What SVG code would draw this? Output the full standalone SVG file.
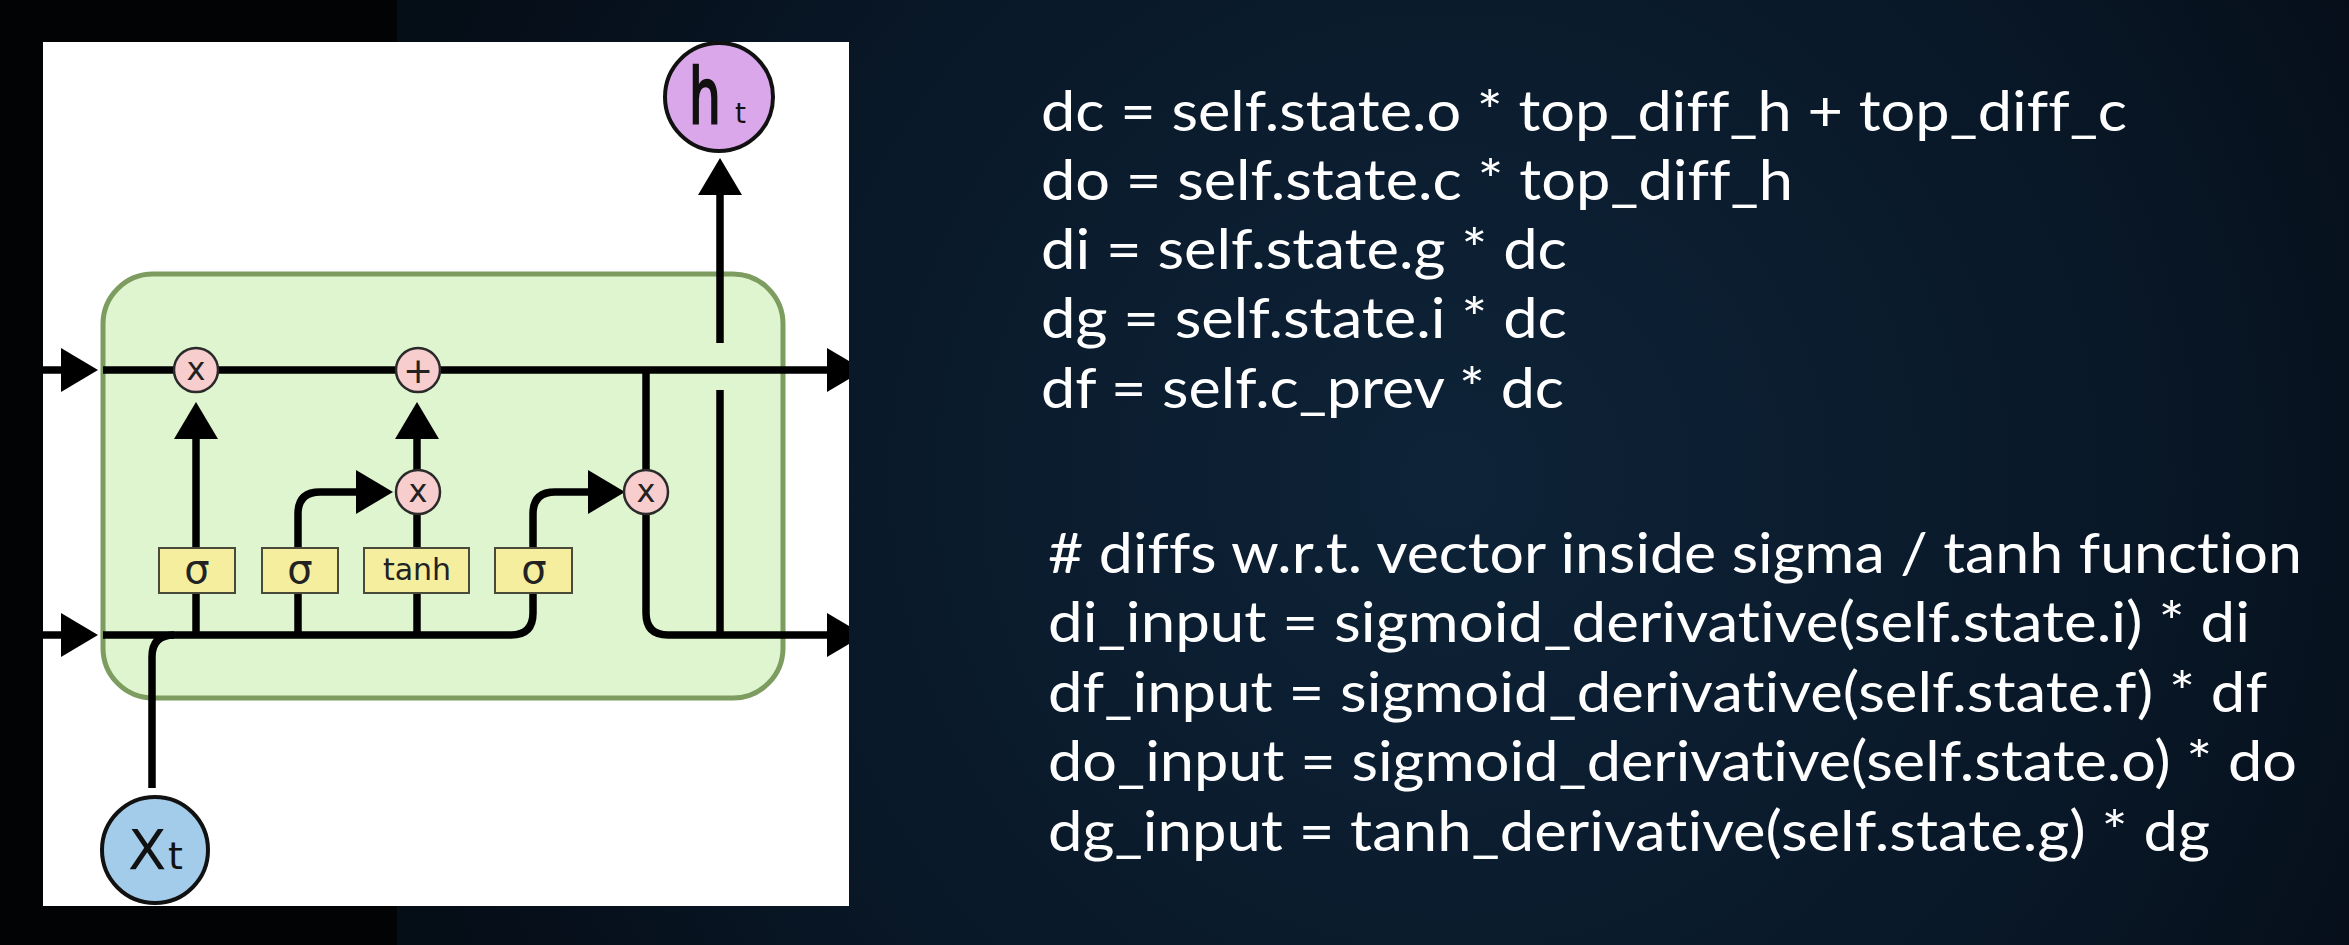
<svg xmlns="http://www.w3.org/2000/svg" width="2349" height="945" viewBox="0 0 2349 945">
  <defs>
    <radialGradient id="bg" cx="1450" cy="480" r="1100" gradientUnits="userSpaceOnUse">
      <stop offset="0" stop-color="#0e2338"/>
      <stop offset="0.6" stop-color="#091828"/>
      <stop offset="1" stop-color="#050d17"/>
    </radialGradient>
    <marker id="ah" markerUnits="userSpaceOnUse" markerWidth="38" markerHeight="44" refX="0" refY="22" orient="auto" overflow="visible">
      <path d="M0,0 L37,22 L0,44 z" fill="#000"/>
    </marker>
    <clipPath id="panel">
      <rect x="43" y="42" width="806" height="864"/>
    </clipPath>
    <style>
      .ln { fill: none; stroke: #000; stroke-width: 7.5; }
      .arr { marker-end: url(#ah); }
      .op { fill: #f7cdcd; stroke: #2a2a2a; stroke-width: 2.5; }
      .gate { fill: #f5ee9e; stroke: #4a4a3a; stroke-width: 2; }
      .sym { font-family: "DejaVu Sans", sans-serif; fill: #222; text-anchor: middle; }
      .io { font-family: "DejaVu Sans", sans-serif; fill: #111; }
      .code { font-family: Lato, "Open Sans", sans-serif; font-size: 57px; fill: #ffffff; font-variant-ligatures: none; font-feature-settings: "liga" 0, "clig" 0, "dlig" 0; }
    </style>
  </defs>

  <!-- background -->
  <rect x="0" y="0" width="2349" height="945" fill="url(#bg)"/>
  <rect x="0" y="0" width="397" height="945" fill="#010305"/>

  <!-- white panel -->
  <rect x="43" y="42" width="806" height="864" fill="#ffffff"/>

  <g id="cell">
    <rect x="103" y="274" width="680" height="424" rx="50" ry="50" fill="#dff5cf" stroke="#7d9c60" stroke-width="5"/>
  </g>

  <g id="connectors" clip-path="url(#panel)">
    <path class="ln arr" d="M43,370 H61"/>
    <path class="ln arr" d="M43,635 H61"/>
    <path class="ln arr" d="M103,370 H827"/>
    <path class="ln" d="M103,635 H511 Q533,635 533,613 V593"/>
    <path class="ln" d="M152,788 V657 Q152,635 174,635"/>
    <path class="ln" d="M196,635 V593"/>
    <path class="ln arr" d="M196,548 V439"/>
    <path class="ln" d="M298,635 V593"/>
    <path class="ln arr" d="M298,548 V514 Q298,492 320,492 H356"/>
    <path class="ln" d="M417,635 V593"/>
    <path class="ln" d="M417,548 V514"/>
    <path class="ln arr" d="M417,470 V439"/>
    <path class="ln arr" d="M533,548 V514 Q533,492 555,492 H588"/>
    <path class="ln arr" d="M646,370 V613 Q646,635 668,635 H827"/>
    <path class="ln" d="M720,635 V390"/>
    <path class="ln arr" d="M720,343 V195"/>
  </g>

  <g id="mul-forget">
    <circle class="op" cx="196" cy="370" r="22"/>
    <text class="sym" x="196" y="380" font-size="32">x</text>
  </g>
  <g id="add-cell">
    <circle class="op" cx="418" cy="370" r="22"/>
    <text class="sym" x="418" y="383" font-size="36">+</text>
  </g>
  <g id="mul-input">
    <circle class="op" cx="418" cy="492" r="22"/>
    <text class="sym" x="418" y="502" font-size="32">x</text>
  </g>
  <g id="mul-output">
    <circle class="op" cx="646" cy="492" r="22"/>
    <text class="sym" x="646" y="502" font-size="32">x</text>
  </g>

  <g id="gate-forget">
    <rect class="gate" x="159" y="548" width="76" height="45"/>
    <text class="sym" x="197" y="583" font-size="40">σ</text>
  </g>
  <g id="gate-input">
    <rect class="gate" x="262" y="548" width="76" height="45"/>
    <text class="sym" x="300" y="583" font-size="40">σ</text>
  </g>
  <g id="gate-tanh">
    <rect class="gate" x="364" y="548" width="105" height="45"/>
    <text class="sym" x="417" y="580" font-size="30">tanh</text>
  </g>
  <g id="gate-output">
    <rect class="gate" x="495" y="548" width="77" height="45"/>
    <text class="sym" x="534" y="583" font-size="40">σ</text>
  </g>

  <g id="xt">
    <circle cx="155" cy="850" r="53" fill="#a3cbea" stroke="#111" stroke-width="4"/>
    <text class="io" x="128" y="869" font-size="56">X</text>
    <text class="io" x="168" y="869" font-size="38">t</text>
  </g>
  <g id="ht">
    <circle cx="719" cy="97" r="54" fill="#daa8ea" stroke="#111" stroke-width="4"/>
    <text class="io" transform="translate(689,123) scale(0.66,1)" font-size="76" stroke="#111" stroke-width="2.5">h</text>
    <text class="io" x="735" y="123" font-size="28">t</text>
  </g>

  <g id="code-block-1">
    <text class="code" x="1041" y="131" textLength="1086" lengthAdjust="spacingAndGlyphs">dc = self.state.o * top_diff_h + top_diff_c</text>
    <text class="code" x="1041" y="200" textLength="752" lengthAdjust="spacingAndGlyphs">do = self.state.c * top_diff_h</text>
    <text class="code" x="1041" y="269" textLength="526" lengthAdjust="spacingAndGlyphs">di = self.state.g * dc</text>
    <text class="code" x="1041" y="338" textLength="526" lengthAdjust="spacingAndGlyphs">dg = self.state.i * dc</text>
    <text class="code" x="1041" y="408" textLength="523" lengthAdjust="spacingAndGlyphs">df = self.c_prev * dc</text>
  </g>
  <g id="code-block-2">
    <text class="code" x="1048" y="573" textLength="1254" lengthAdjust="spacingAndGlyphs"># diffs w.r.t. vector inside sigma / tanh function</text>
    <text class="code" x="1048" y="642" textLength="1202" lengthAdjust="spacingAndGlyphs">di_input = sigmoid_derivative(self.state.i) * di</text>
    <text class="code" x="1048" y="712" textLength="1219" lengthAdjust="spacingAndGlyphs">df_input = sigmoid_derivative(self.state.f) * df</text>
    <text class="code" x="1048" y="781" textLength="1249" lengthAdjust="spacingAndGlyphs">do_input = sigmoid_derivative(self.state.o) * do</text>
    <text class="code" x="1048" y="851" textLength="1162" lengthAdjust="spacingAndGlyphs">dg_input = tanh_derivative(self.state.g) * dg</text>
  </g>
</svg>
